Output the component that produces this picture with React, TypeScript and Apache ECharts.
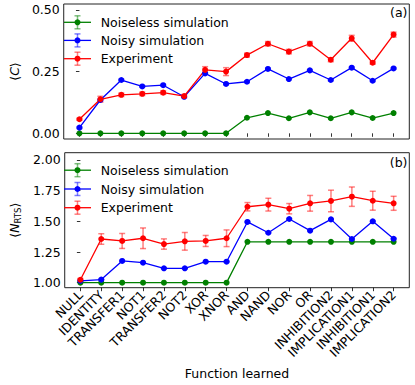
import React, { useEffect, useRef } from "react";
import * as echarts from "echarts";

const categories = ["NULL", "IDENTITY", "TRANSFER1", "NOT1", "TRANSFER2", "NOT2", "XOR", "XNOR", "AND", "NAND", "NOR", "OR", "INHIBITION2", "IMPLICATION1", "INHIBITION1", "IMPLICATION2"];

// Panel (a): <C>
const cNoiseless = [0, 0, 0, 0, 0, 0, 0, 0, 0.063, 0.082, 0.061, 0.085, 0.061, 0.085, 0.062, 0.082];
const cNoisy = [0.023, 0.135, 0.216, 0.19, 0.195, 0.148, 0.243, 0.2, 0.209, 0.261, 0.22, 0.255, 0.216, 0.266, 0.213, 0.263];
const cExperiment = [0.057, 0.138, 0.156, 0.16, 0.165, 0.151, 0.257, 0.25, 0.317, 0.363, 0.331, 0.363, 0.298, 0.385, 0.286, 0.4];
const cNoiselessErr = [0, 0, 0, 0, 0, 0, 0, 0, 0, 0, 0, 0, 0, 0, 0, 0];
const cNoisyErr = [0.003, 0.003, 0.003, 0.003, 0.003, 0.003, 0.003, 0.003, 0.003, 0.003, 0.003, 0.003, 0.003, 0.003, 0.003, 0.003];
const cExperimentErr = [0.004, 0.012, 0.007, 0.007, 0.007, 0.006, 0.013, 0.016, 0.008, 0.009, 0.009, 0.009, 0.008, 0.012, 0.006, 0.01];

// Panel (b): <N_RTS>
const nNoiseless = [1, 1, 1, 1, 1, 1, 1, 1, 1.333, 1.333, 1.333, 1.333, 1.333, 1.333, 1.333, 1.333];
const nNoisy = [1.015, 1.025, 1.177, 1.163, 1.117, 1.117, 1.171, 1.171, 1.495, 1.407, 1.519, 1.424, 1.516, 1.356, 1.5, 1.358];
const nExperiment = [1.024, 1.356, 1.34, 1.362, 1.315, 1.337, 1.34, 1.362, 1.619, 1.636, 1.603, 1.647, 1.666, 1.701, 1.668, 1.647];
const nNoiselessErr = [0, 0, 0, 0, 0, 0, 0, 0, 0, 0, 0, 0, 0, 0, 0, 0];
const nNoisyErr = [0.004, 0.004, 0.004, 0.004, 0.004, 0.004, 0.004, 0.004, 0.004, 0.004, 0.004, 0.004, 0.004, 0.004, 0.004, 0.004];
const nExperimentErr = [0.01, 0.043, 0.061, 0.084, 0.042, 0.072, 0.045, 0.068, 0.034, 0.052, 0.042, 0.064, 0.088, 0.079, 0.077, 0.057];

const cTicks = [0, 0.25, 0.5];
const nTicks = [1.0, 1.25, 1.5, 1.75, 2.0];

const names = ["Noiseless simulation", "Noisy simulation", "Experiment"];
const colors = ["#008000", "#0000ff", "#ff0000"];
const errColors = ["rgba(0,128,0,0.5)", "rgba(0,0,255,0.5)", "rgba(255,0,0,0.5)"];

const FONT = "DejaVu Sans";
const FS = 12.5;

// legend row centres (pixels) for panel (a) and panel (b)
const LEG_ROWS = [
  [22.3, 40.4, 58.7],
  [170.2, 189, 207.7],
];
const LEG_X0 = 64;
const LEG_X1 = 91;
const LEG_TEXT_X = 100.7;

const idx = categories.map((_, i) => i);

function lineSeries(k: number, vals: number[], gi: number) {
  return {
    type: "line",
    name: names[k],
    xAxisIndex: gi,
    yAxisIndex: gi,
    data: vals.map((v, i) => [i, v]),
    symbol: "circle",
    symbolSize: 6,
    showSymbol: true,
    lineStyle: { color: colors[k], width: 1.3 },
    itemStyle: { color: colors[k] },
    z: 3,
  };
}

function errSeries(k: number, vals: number[], errs: number[], gi: number) {
  return {
    type: "custom",
    name: "err" + k + "_" + gi,
    xAxisIndex: gi,
    yAxisIndex: gi,
    data: vals.map((v, i) => [i, v, errs[i]]),
    z: 2,
    silent: true,
    renderItem: (params: any, api: any) => {
      const x = api.value(0);
      const y = api.value(1);
      const e = api.value(2);
      if (!e) return { type: "group", children: [] };
      const t = api.coord([x, y + e]);
      const b = api.coord([x, y - e]);
      const hw = 3;
      const st = { stroke: errColors[k], lineWidth: 1.5 };
      return {
        type: "group",
        children: [
          { type: "line", shape: { x1: t[0], y1: t[1], x2: b[0], y2: b[1] }, style: st },
          { type: "line", shape: { x1: t[0] - hw, y1: t[1], x2: t[0] + hw, y2: t[1] }, style: st },
          { type: "line", shape: { x1: b[0] - hw, y1: b[1], x2: b[0] + hw, y2: b[1] }, style: st },
        ],
      };
    },
  };
}

// legend: errorbar handle + label, one block per panel
function legendGraphics() {
  const out: any[] = [];
  LEG_ROWS.forEach((rows) => {
    rows.forEach((cy, k) => {
      const cx = (LEG_X0 + LEG_X1) / 2;
      const est = { stroke: errColors[k], lineWidth: 1.5 };
      out.push({ type: "line", silent: true, z: 100, shape: { x1: LEG_X0, y1: cy, x2: LEG_X1, y2: cy }, style: { stroke: colors[k], lineWidth: 1.3 } });
      out.push({ type: "line", silent: true, z: 100, shape: { x1: cx, y1: cy - 6.5, x2: cx, y2: cy + 6.5 }, style: est });
      out.push({ type: "line", silent: true, z: 100, shape: { x1: cx - 3, y1: cy - 6.5, x2: cx + 3, y2: cy - 6.5 }, style: est });
      out.push({ type: "line", silent: true, z: 100, shape: { x1: cx - 3, y1: cy + 6.5, x2: cx + 3, y2: cy + 6.5 }, style: est });
      out.push({ type: "circle", silent: true, z: 101, shape: { cx, cy, r: 3 }, style: { fill: colors[k] } });
      out.push({
        type: "text",
        silent: true,
        z: 101,
        x: LEG_TEXT_X,
        y: cy,
        style: { text: names[k], font: `${FS}px ${FONT}`, fill: "#000", verticalAlign: "middle", align: "left" },
      });
    });
  });
  return out;
}

function xAxis(gi: number, showLabels: boolean) {
  return {
    type: "value",
    gridIndex: gi,
    min: -0.75,
    max: 15.75,
    splitLine: { show: false },
    axisLine: { show: false },
    axisTick: { show: true, customValues: idx, length: 3.5, inside: false, lineStyle: { color: "#000", width: 0.8 } },
    axisLabel: {
      show: showLabels,
      customValues: idx,
      rotate: 45,
      margin: 5,
      formatter: (v: number) => categories[Math.round(v)] ?? "",
      fontFamily: FONT,
      fontSize: FS,
      color: "#000",
    },
    name: showLabels ? "Function learned" : "",
    nameLocation: "middle",
    nameGap: 79,
    nameTextStyle: { fontFamily: FONT, fontSize: FS, color: "#000" },
  };
}

export default function App() {
  const ref = useRef<HTMLDivElement>(null);
  useEffect(() => {
    if (!ref.current) return;
    const chart = echarts.init(ref.current, null, { renderer: "svg" });
    const option: any = {
      animation: false,
      backgroundColor: "#fff",
      grid: [
        { left: 52.3, top: 4, width: 357, height: 135, show: true, borderColor: "#222", borderWidth: 1, backgroundColor: "transparent" },
        { left: 52.3, top: 152.7, width: 357, height: 135, show: true, borderColor: "#222", borderWidth: 1, backgroundColor: "transparent" },
      ],
      xAxis: [xAxis(0, false), xAxis(1, true)],
      yAxis: [
        {
          type: "value",
          gridIndex: 0,
          min: -0.023,
          max: 0.524,
          splitLine: { show: false },
          axisLine: { show: false },
          axisTick: { show: true, customValues: cTicks, length: 3.5, lineStyle: { color: "#000", width: 0.8 } },
          axisLabel: { customValues: cTicks, formatter: (v: number) => v.toFixed(2), fontFamily: FONT, fontSize: FS, color: "#000", margin: 4 },
          name: "{a|⟨}{c|C}{a|⟩}",
          nameLocation: "middle",
          nameGap: 33,
          nameRotate: 90,
          nameTextStyle: {
            fontFamily: FONT,
            fontSize: FS,
            color: "#000",
            rich: {
              a: { fontFamily: FONT, fontSize: FS, color: "#000" },
              c: { fontFamily: FONT, fontSize: FS, color: "#000", fontStyle: "italic" },
            },
          },
        },
        {
          type: "value",
          gridIndex: 1,
          min: 0.959,
          max: 2.0595,
          splitLine: { show: false },
          axisLine: { show: false },
          axisTick: { show: true, customValues: nTicks, length: 3.5, lineStyle: { color: "#000", width: 0.8 } },
          axisLabel: { customValues: nTicks, formatter: (v: number) => v.toFixed(2), fontFamily: FONT, fontSize: FS, color: "#000", margin: 4 },
          name: "{a|⟨}{n|N}{s|RTS}{a|⟩}",
          nameLocation: "middle",
          nameGap: 33,
          nameRotate: 90,
          nameTextStyle: {
            fontFamily: FONT,
            fontSize: FS,
            color: "#000",
            rich: {
              a: { fontFamily: FONT, fontSize: FS, color: "#000" },
              n: { fontFamily: FONT, fontSize: FS, color: "#000", fontStyle: "italic" },
              s: { fontFamily: FONT, fontSize: 8.5, color: "#000", padding: [6, 0, 0, 0] },
            },
          },
        },
      ],
      graphic: [
        { type: "text", right: 7.5, top: 6, style: { text: "(a)", font: `${FS}px ${FONT}`, fill: "#000" } },
        { type: "text", right: 7.5, top: 156, style: { text: "(b)", font: `${FS}px ${FONT}`, fill: "#000" } },
        ...legendGraphics(),
      ],
      series: [
        errSeries(0, cNoiseless, cNoiselessErr, 0),
        errSeries(1, cNoisy, cNoisyErr, 0),
        errSeries(2, cExperiment, cExperimentErr, 0),
        lineSeries(0, cNoiseless, 0),
        lineSeries(1, cNoisy, 0),
        lineSeries(2, cExperiment, 0),
        errSeries(0, nNoiseless, nNoiselessErr, 1),
        errSeries(1, nNoisy, nNoisyErr, 1),
        errSeries(2, nExperiment, nExperimentErr, 1),
        lineSeries(0, nNoiseless, 1),
        lineSeries(1, nNoisy, 1),
        lineSeries(2, nExperiment, 1),
      ],
    };
    chart.setOption(option);
    return () => chart.dispose();
  }, []);
  return <div ref={ref} style={{ position: "fixed", left: 0, top: 0, width: 415, height: 385 }} />;
}
